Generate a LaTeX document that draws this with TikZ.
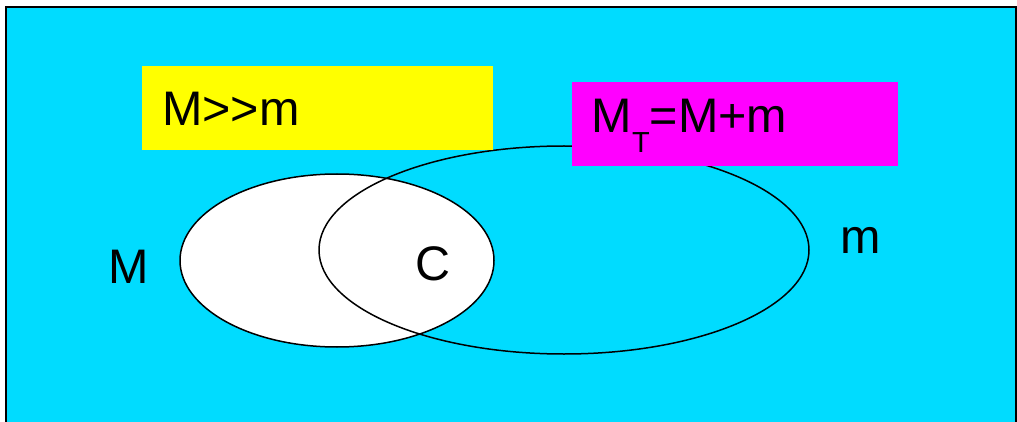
\documentclass[tikz,border=0pt]{standalone}
\usepackage{fontspec}
\setmainfont{Liberation Sans}
\definecolor{bgcyan}{RGB}{0,220,255}
\definecolor{boxyellow}{RGB}{255,255,0}
\definecolor{boxmagenta}{RGB}{255,0,255}
\tikzset{
  lbl/.style={inner sep=0pt, anchor=base west, font=\fontsize{48.5}{58}\selectfont},
  setline/.style={draw=black, line width=1.5pt},
}
\begin{document}
\begin{tikzpicture}[x=1pt,y=-1pt]
\useasboundingbox (0,0) rectangle (1017,422);
\begin{scope}
\clip (0,0) rectangle (1017,422);
\draw[fill=bgcyan, line width=2pt] (6,7) rectangle (1016,440);
\end{scope}
% sets
\path[setline, fill=white] (337,260.5) ellipse [x radius=157, y radius=86.5];
\node[inner sep=0pt] (Mset) at (337,260.5) {};
\path[setline] (564,250) ellipse [x radius=245, y radius=104];
\node[inner sep=0pt] (mset) at (564,250) {};
% boxes
\fill[boxyellow] (142,66) rectangle (492.5,150);
\fill[boxmagenta] (572,82) rectangle (897.5,166);
\node[lbl] (ratio) at (162,126) {M>{}>m};
\node[lbl] (total) at (591.5,133) {M\raisebox{-20pt}{\fontsize{29}{30}\selectfont T}=M+m};
% labels
\node[lbl] (lM) at (108,283) {M};
\node[lbl] (lC) at (415.5,280) {C};
\node[lbl] (lm) at (840.5,253) {m};
\end{tikzpicture}
\end{document}
